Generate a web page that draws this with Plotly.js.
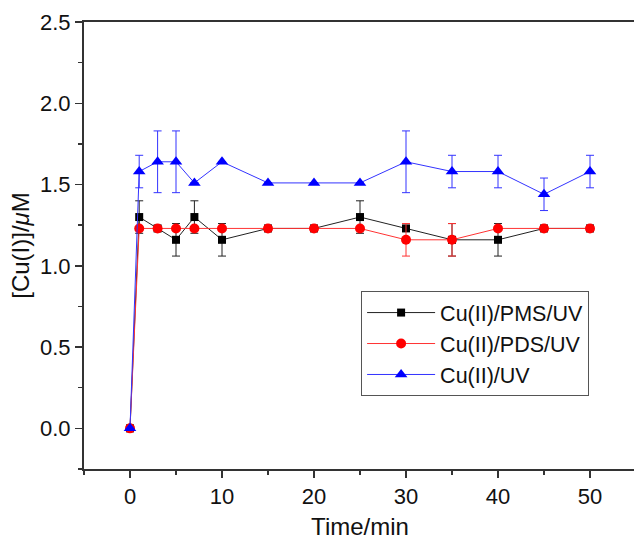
<!DOCTYPE html>
<html>
<head>
<meta charset="utf-8">
<script src="https://cdn.plot.ly/plotly-3.0.1.min.js"></script>
<style>
html,body{margin:0;padding:0;overflow:hidden;background:#fff;}
#chart{width:640px;height:540px;}
</style>
</head>
<body>
<div id="chart"></div>
<script>
const time = [0, 1, 3, 5, 7, 10, 15, 20, 25, 30, 35, 40, 45, 50];

const pmsName = "Cu(II)/PMS/UV";
const pmsValues = [0, 1.30, 1.23, 1.16, 1.30, 1.16, 1.23, 1.23, 1.30, 1.23, 1.16, 1.16, 1.23, 1.23];
const pmsErrors = [0, 0.10, 0, 0.10, 0.10, 0.10, 0, 0, 0.10, 0, 0.10, 0.10, 0, 0];

const pdsName = "Cu(II)/PDS/UV";
const pdsValues = [0, 1.23, 1.23, 1.23, 1.23, 1.23, 1.23, 1.23, 1.23, 1.16, 1.16, 1.23, 1.23, 1.23];
const pdsErrors = [0, 0, 0, 0, 0, 0, 0, 0, 0, 0.10, 0.10, 0, 0, 0];

const uvName = "Cu(II)/UV";
const uvValues = [0, 1.58, 1.64, 1.64, 1.51, 1.64, 1.51, 1.51, 1.51, 1.64, 1.58, 1.58, 1.44, 1.58];
const uvErrors = [0, 0.10, 0.19, 0.19, 0, 0, 0, 0, 0, 0.19, 0.10, 0.10, 0.10, 0.10];

const xTickVals = [0, 10, 20, 30, 40, 50];
const yTickVals = [0, 0.5, 1.0, 1.5, 2.0, 2.5];
const yTickText = ["0.0", "0.5", "1.0", "1.5", "2.0", "2.5"];

function series(name, y, err, color, lineColor, symbol, size) {
  return {
    x: time, y: y, name: name, type: "scatter", mode: "lines+markers",
    line: {color: lineColor, width: 1},
    marker: {color: color, symbol: symbol, size: size},
    error_y: {type: "data", array: err, visible: true, color: lineColor, thickness: 1, width: 4}
  };
}

const traces = [
  series(pmsName, pmsValues, pmsErrors, "#000000", "#222222", "square", 8),
  series(pdsName, pdsValues, pdsErrors, "#ff0000", "#ff3333", "circle", 10),
  series(uvName, uvValues, uvErrors, "#0000ff", "#3333ff", "triangle-up", 11)
];

const font = {family: "Liberation Sans, Arial, sans-serif", color: "#111", size: 22};

const layout = {
  width: 640, height: 540,
  margin: {l: 84, r: 4, t: 22, b: 71},
  paper_bgcolor: "#fff", plot_bgcolor: "#fff",
  font: font,
  showlegend: true,
  legend: {
    x: 0.502, y: 0.398, xanchor: "left", yanchor: "top",
    bordercolor: "#555", borderwidth: 1, bgcolor: "#fff",
    itemwidth: 68,
    font: {family: font.family, size: 21.5, color: "#111"}
  },
  xaxis: {
    range: [-5, 55], tickvals: xTickVals,
    ticks: "outside", ticklen: 7, tickwidth: 1.5, tickcolor: "#333",
    showline: true, linecolor: "#333", linewidth: 2, mirror: true,
    showgrid: false, zeroline: false,
    minor: {dtick: 5, tick0: -5, ticks: "outside", ticklen: 4, tickwidth: 1.5, tickcolor: "#333"},
    tickfont: {size: 22},
    title: {text: "Time/min", font: {size: 24}, standoff: 13}
  },
  yaxis: {
    range: [-0.25, 2.5], tickvals: yTickVals, ticktext: yTickText,
    ticks: "outside", ticklen: 7, tickwidth: 1.5, tickcolor: "#333",
    showline: true, linecolor: "#333", linewidth: 2, mirror: true,
    showgrid: false, zeroline: false,
    minor: {dtick: 0.25, tick0: 0, ticks: "outside", ticklen: 4, tickwidth: 1.5, tickcolor: "#333"},
    tickfont: {size: 22},
    title: {text: "[Cu(I)]/<i>μ</i>M", font: {size: 24}, standoff: 4}
  }
};

Plotly.newPlot("chart", traces, layout, {displayModeBar: false, staticPlot: true});
</script>
</body>
</html>
